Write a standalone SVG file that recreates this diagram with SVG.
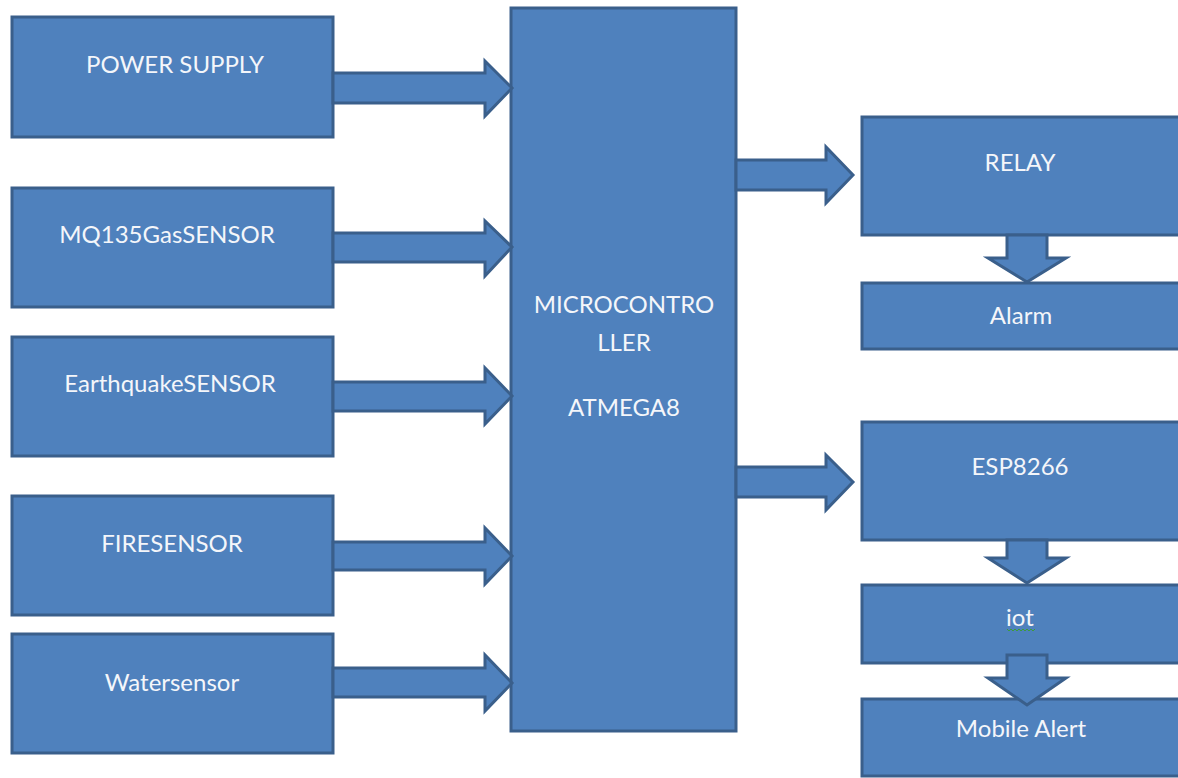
<svg xmlns="http://www.w3.org/2000/svg" width="1178" height="778" viewBox="0 0 1178 778">
<style>
.box{fill:#4F81BD;stroke:#3A5F8B;stroke-width:3}
.arr{fill:#4F81BD;stroke:#3A5F8B;stroke-width:3;stroke-linejoin:miter}
text{font-family:Lato,"Open Sans","Liberation Sans",sans-serif;font-size:24px;fill:#F4F6FA;text-anchor:middle}
</style>
<rect width="1178" height="778" fill="#FFFFFF"/>
<g id="power-supply"><rect class="box" x="12" y="17" width="321" height="120"/><text x="175" y="73">POWER SUPPLY</text></g>
<g id="mq135"><rect class="box" x="12" y="188" width="321" height="119"/><text x="167" y="243">MQ135GasSENSOR</text></g>
<g id="earthquake"><rect class="box" x="12" y="337" width="321" height="119"/><text x="170" y="392">EarthquakeSENSOR</text></g>
<g id="fire"><rect class="box" x="12" y="496" width="321" height="119"/><text x="172" y="552">FIRESENSOR</text></g>
<g id="water"><rect class="box" x="12" y="634" width="321" height="119"/><text x="172" y="691">Watersensor</text></g>
<g id="microcontroller"><rect class="box" x="511" y="8" width="225" height="723"/><text x="624" y="313">MICROCONTRO</text><text x="624" y="351">LLER</text><text x="624" y="416">ATMEGA8</text></g>
<g id="relay"><rect class="box" x="862" y="117" width="330" height="118"/><text x="1020" y="171">RELAY</text></g>
<g id="alarm"><rect class="box" x="862" y="283" width="330" height="66"/><text x="1021" y="324">Alarm</text></g>
<g id="esp8266"><rect class="box" x="862" y="422" width="330" height="118"/><text x="1020" y="475">ESP8266</text></g>
<g id="iot"><rect class="box" x="862" y="585" width="330" height="78"/><text x="1020" y="626">iot</text>
<polyline points="1007,629 1009,631 1011,629 1013,631 1015,629 1017,631 1019,629 1021,631 1023,629 1025,631 1027,629 1029,631 1031,629 1033,631 1035,629" fill="none" stroke="#3C9A3C" stroke-width="1"/></g>
<g id="mobile-alert"><rect class="box" x="862" y="699" width="330" height="77"/><text x="1021" y="737">Mobile Alert</text></g>
<g id="connectors">
<polygon class="arr" points="333,73 485,73 485,61 512,88 485,116 485,103 333,103"/>
<polygon class="arr" points="333,233 485,233 485,221 512,247 485,276 485,262 333,262"/>
<polygon class="arr" points="333,382 485,382 485,368 512,396 485,424 485,411 333,411"/>
<polygon class="arr" points="333,542 485,542 485,528 512,556 485,584 485,570 333,570"/>
<polygon class="arr" points="333,668 485,668 485,655 512,683 485,711 485,697 333,697"/>
<polygon class="arr" points="736,160 826,160 826,147 853,175 826,203 826,190 736,190"/>
<polygon class="arr" points="736,467 826,467 826,455 853,482 826,510 826,497 736,497"/>
<polygon class="arr" points="1007,235 1047,235 1047,258 1066,258 1027,282 988,258 1007,258"/>
<polygon class="arr" points="1007,540 1047,540 1047,558 1066,558 1027,583 988,558 1007,558"/>
<polygon class="arr" points="1007,655 1047,655 1047,678 1066,678 1027,705 988,678 1007,678"/>
</g>
</svg>
